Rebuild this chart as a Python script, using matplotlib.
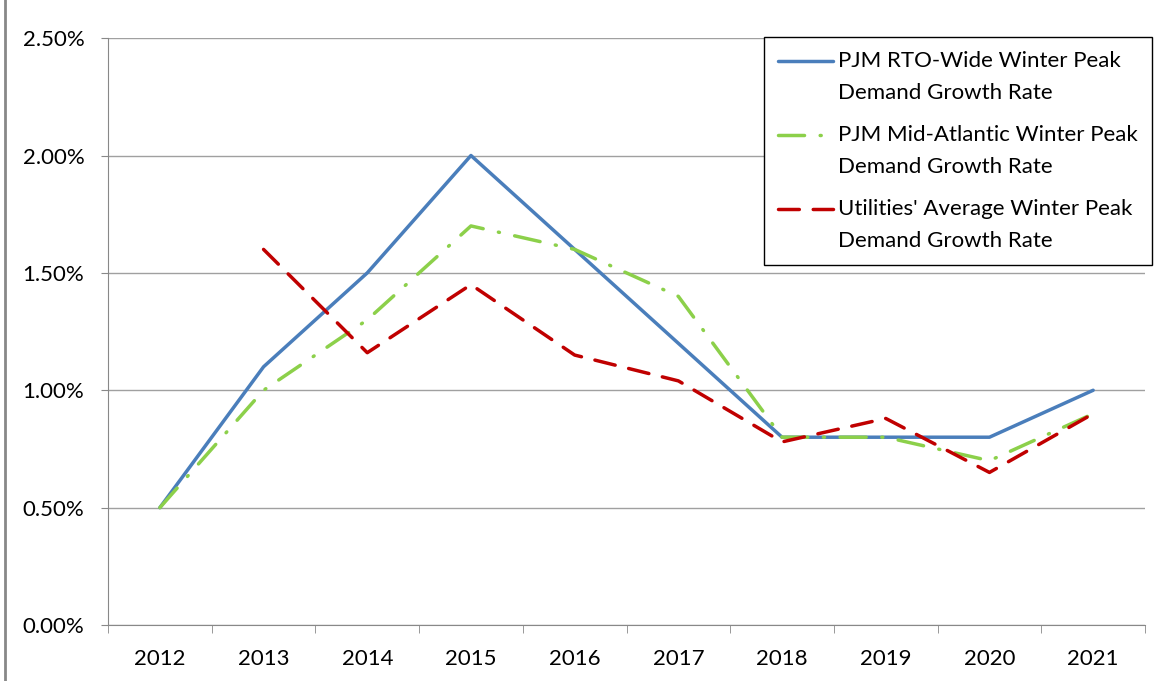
import numpy as np
import matplotlib
matplotlib.use("Agg")
import matplotlib.pyplot as plt
from matplotlib.lines import Line2D
from matplotlib.legend_handler import HandlerLine2D
from matplotlib.ticker import FuncFormatter, MultipleLocator, FixedLocator

plt.rcParams['font.family'] = ['Lato', 'DejaVu Sans']

years = ['2012', '2013', '2014', '2015', '2016', '2017', '2018', '2019', '2020', '2021']
rto_wide = [0.50, 1.10, 1.50, 2.00, 1.60, 1.20, 0.80, 0.80, 0.80, 1.00]
mid_atlantic = [0.50, 1.00, 1.30, 1.70, 1.60, 1.40, 0.80, 0.80, 0.70, 0.90]
utilities = [np.nan, 1.60, 1.16, 1.45, 1.15, 1.04, 0.78, 0.88, 0.65, 0.90]


# legend handle sits next to the first line of a two-line label (Excel style)
class TopLineHandler(HandlerLine2D):
    def create_artists(self, legend, orig_handle, xdescent, ydescent,
                       width, height, fontsize, trans):
        arts = super().create_artists(legend, orig_handle, xdescent, ydescent,
                                      width, height, fontsize, trans)
        for a in arts:
            a.set_ydata(np.asarray(a.get_ydata()) + 11.5)
        return arts


fig = plt.figure(figsize=(11.54, 6.81), dpi=100)
ax = fig.add_axes([0.0936, 0.0822, 0.8986, 0.8618])

x = np.arange(len(years))
ax.plot(x, rto_wide, color='#4a7ebb', lw=2.5, solid_capstyle='round',
        label='PJM RTO-Wide Winter Peak\nDemand Growth Rate')
ax.plot(x, mid_atlantic, color='#8cd04a', lw=2.5, dashes=(7.5, 4.5, 0.3, 4.5),
        dash_capstyle='round', label='PJM Mid-Atlantic Winter Peak\nDemand Growth Rate')
ax.plot(x, utilities, color='#c00000', lw=2.5, dashes=(6, 4),
        dash_capstyle='round', label="Utilities' Average Winter Peak\nDemand Growth Rate")

ax.set_xlim(-0.5, len(years) - 0.5)
ax.set_ylim(0, 2.5)
ax.yaxis.set_major_locator(MultipleLocator(0.5))
ax.yaxis.set_major_formatter(FuncFormatter(lambda v, p: '%.2f%%' % v))
ax.set_xticks(x)
ax.set_xticklabels(years)
ax.xaxis.set_minor_locator(FixedLocator(np.arange(-0.5, len(years), 1.0)))
ax.tick_params(axis='x', which='major', length=0, pad=17, labelsize=16)
ax.tick_params(axis='x', which='minor', length=6, color='#888888', direction='out')
ax.tick_params(axis='y', length=5, color='#888888', pad=12, labelsize=16)

ax.grid(axis='y', color='#a0a0a0', lw=1)
ax.set_axisbelow(True)
for s in ['top', 'right']:
    ax.spines[s].set_visible(False)
for s in ['left', 'bottom']:
    ax.spines[s].set_color('#888888')

handles, labels = ax.get_legend_handles_labels()
leg = fig.legend(handles, labels, loc='upper left',
                 bbox_to_anchor=(764 / 1154, 1 - 37 / 681), fontsize=16,
                 frameon=True, fancybox=False, edgecolor='black', framealpha=1,
                 handlelength=2.5, handletextpad=0.22, labelspacing=1.0,
                 borderpad=0.62, borderaxespad=0,
                 handler_map={Line2D: TopLineHandler()})
leg.get_frame().set_linewidth(1)
for t in leg.get_texts():
    t.set_linespacing(1.75)

fig.add_artist(plt.Line2D([0.004, 0.004], [0, 1], color='#888888', lw=2,
                          transform=fig.transFigure))

fig.savefig('out.png', dpi=100)
